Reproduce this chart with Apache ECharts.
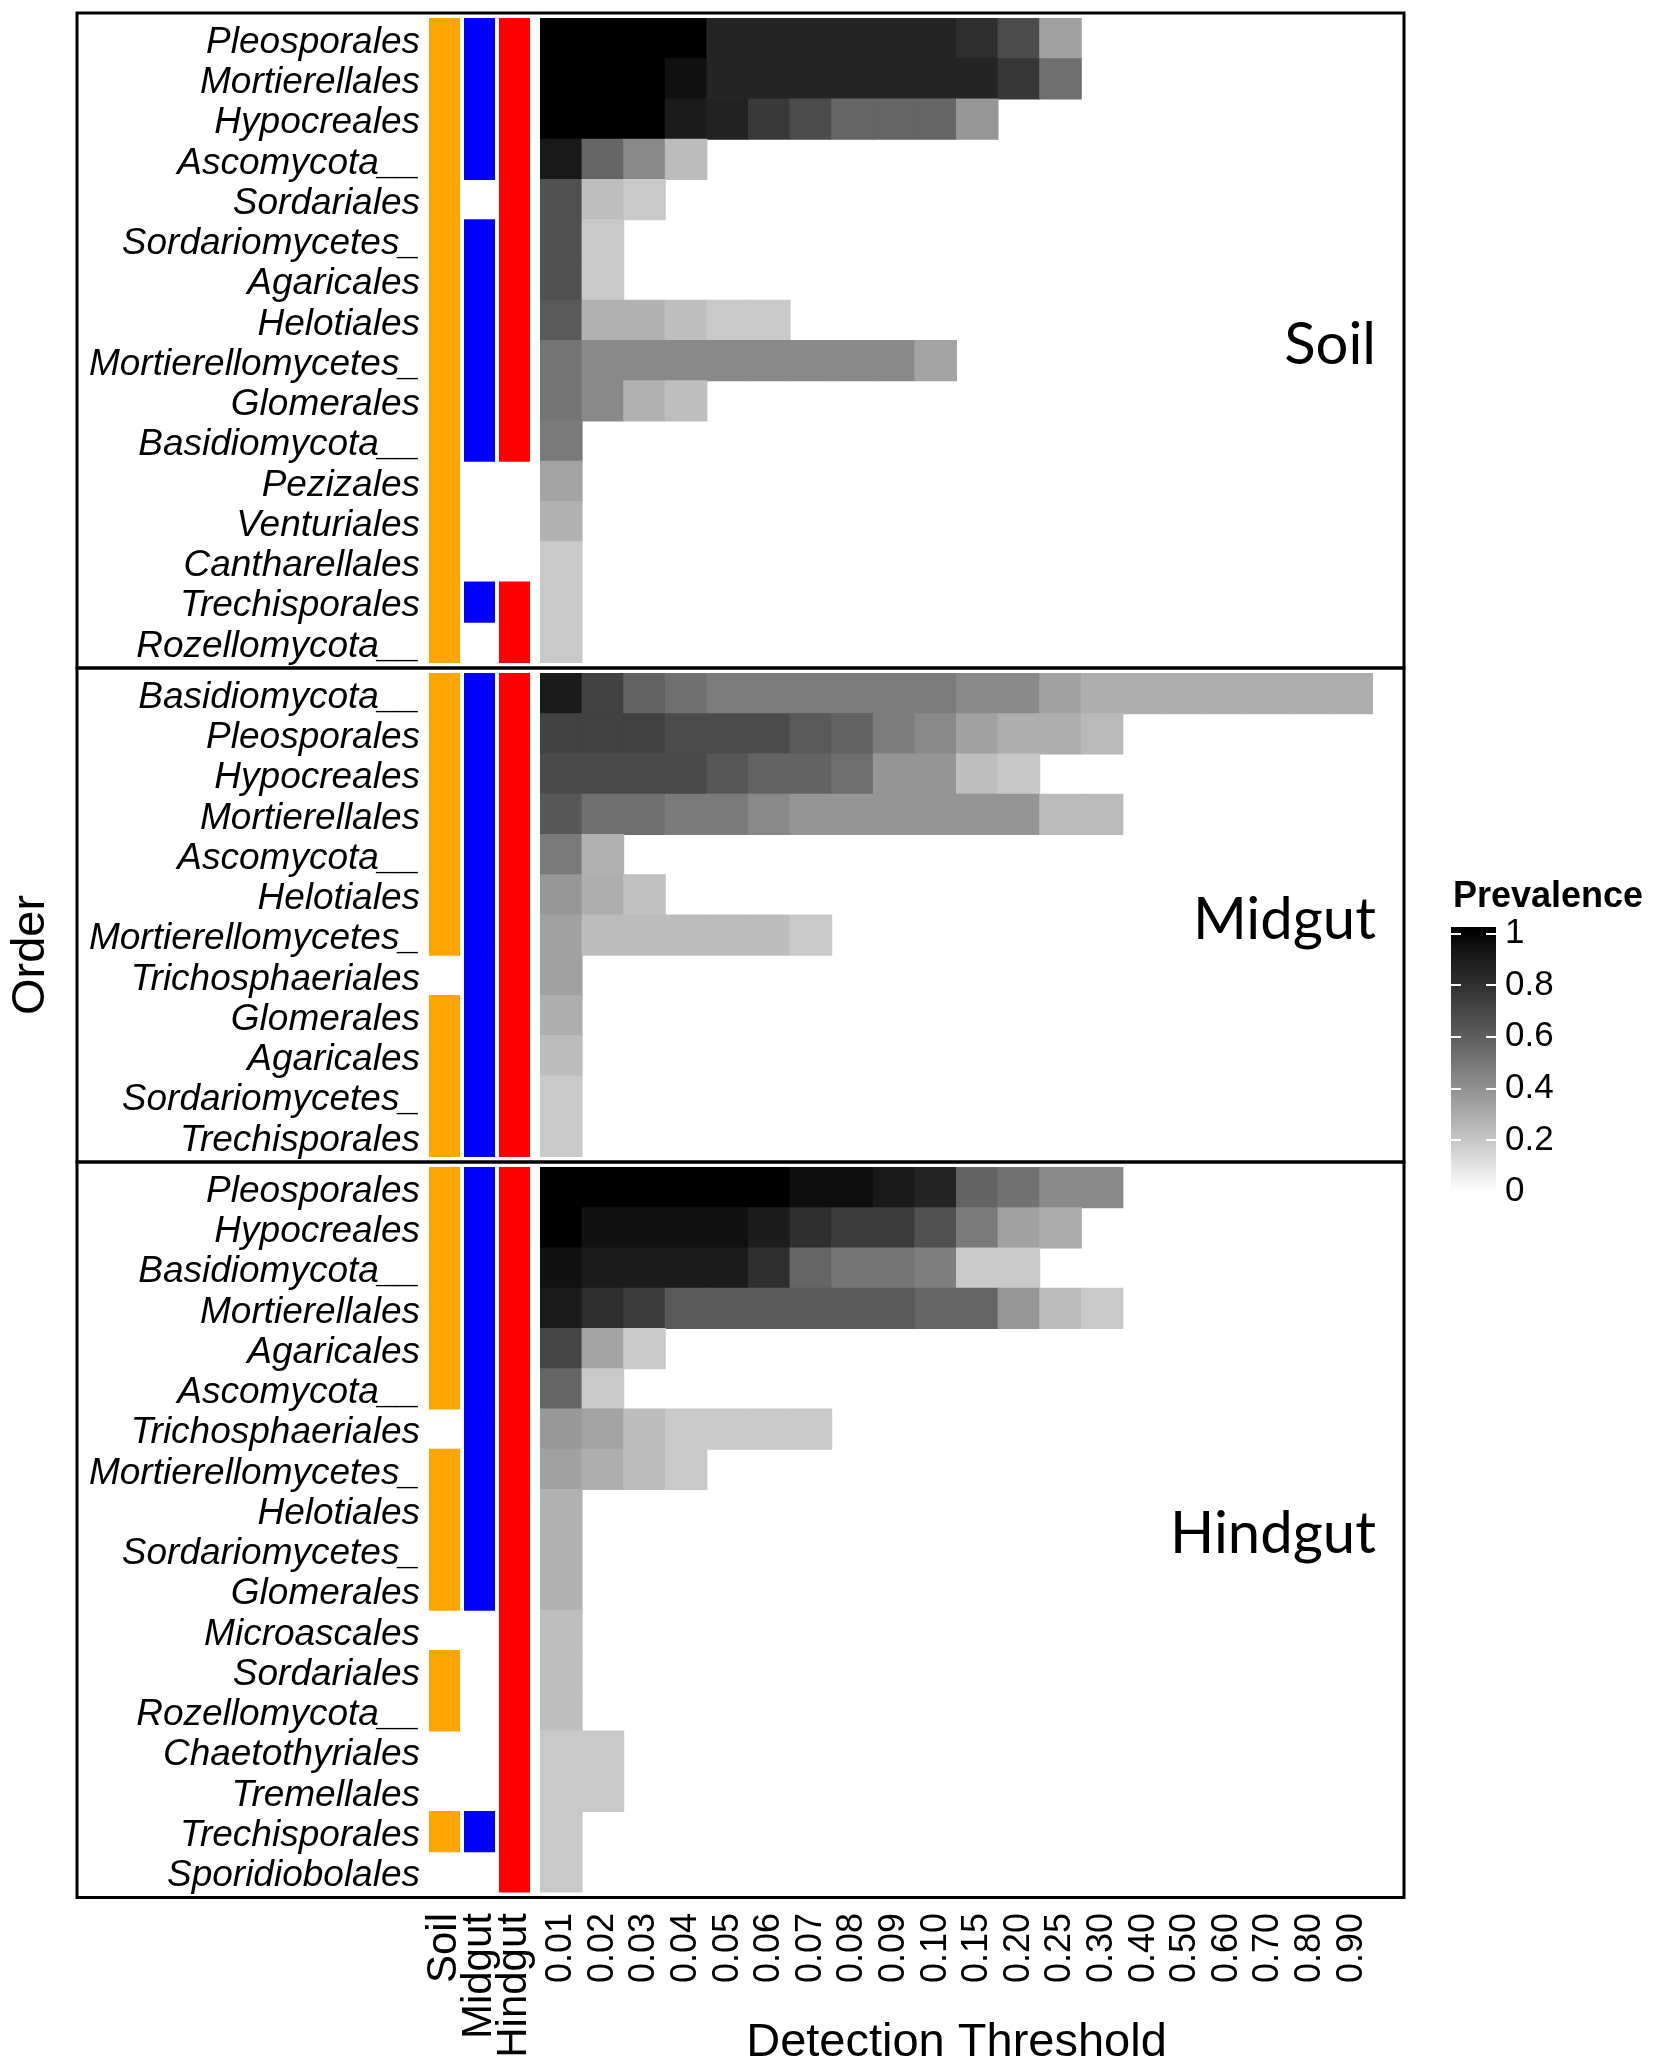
<!DOCTYPE html>
<html><head><meta charset="utf-8">
<script src="https://cdn.jsdelivr.net/npm/echarts@6/dist/echarts.min.js"></script>
<style>html,body{margin:0;padding:0;background:#fff}#c{width:1654px;height:2066px}</style>
</head><body><div id="c"></div><script>
// ---------------- data ----------------
const thresholds = ['0.01','0.02','0.03','0.04','0.05','0.06','0.07','0.08','0.09','0.10',
                    '0.15','0.20','0.25','0.30','0.40','0.50','0.60','0.70','0.80','0.90'];
const sources = ['Soil','Midgut','Hindgut'];
const sourceColors = ['#FFA500','#0000FF','#FF0000'];
const legendBreaks = [0, 0.2, 0.4, 0.6, 0.8, 1];

const soilOrders = ['Pleosporales','Mortierellales','Hypocreales','Ascomycota__','Sordariales',
  'Sordariomycetes_','Agaricales','Helotiales','Mortierellomycetes_','Glomerales','Basidiomycota__',
  'Pezizales','Venturiales','Cantharellales','Trechisporales','Rozellomycota__'];
// presence in [Soil, Midgut, Hindgut]
const soilPresence = [[1,1,1],[1,1,1],[1,1,1],[1,1,1],[1,0,1],[1,1,1],[1,1,1],[1,1,1],[1,1,1],[1,1,1],[1,1,1],
  [1,0,0],[1,0,0],[1,0,0],[1,1,1],[1,0,1]];
// prevalence per detection threshold (leading columns; missing = not detected)
const soilPrevalence = [
  [1,1,1,1,0.86,0.86,0.86,0.86,0.86,0.86,0.81,0.68,0.34],
  [1,1,1,0.95,0.86,0.86,0.86,0.86,0.86,0.86,0.86,0.77,0.53],
  [1,1,1,0.9,0.87,0.76,0.68,0.57,0.57,0.57,0.38],
  [0.91,0.57,0.43,0.24],
  [0.66,0.23,0.19],
  [0.66,0.19],
  [0.66,0.19],
  [0.62,0.28,0.28,0.23,0.19,0.19],
  [0.51,0.43,0.43,0.43,0.43,0.43,0.43,0.43,0.43,0.33],
  [0.51,0.43,0.28,0.23],
  [0.49],
  [0.33],
  [0.28],
  [0.19],
  [0.19],
  [0.19]
];

const midgutOrders = ['Basidiomycota__','Pleosporales','Hypocreales','Mortierellales','Ascomycota__',
  'Helotiales','Mortierellomycetes_','Trichosphaeriales','Glomerales','Agaricales','Sordariomycetes_','Trechisporales'];
const midgutPresence = [[1,1,1],[1,1,1],[1,1,1],[1,1,1],[1,1,1],[1,1,1],[1,1,1],[0,1,1],[1,1,1],[1,1,1],[1,1,1],[1,1,1]];
const midgutPrevalence = [
  [0.9,0.72,0.585,0.53,0.48,0.48,0.48,0.48,0.48,0.48,0.43,0.43,0.335,0.29,0.29,0.29,0.29,0.29,0.29,0.29],
  [0.72,0.72,0.72,0.68,0.68,0.68,0.62,0.585,0.48,0.43,0.34,0.29,0.29,0.25],
  [0.685,0.685,0.685,0.685,0.63,0.58,0.58,0.536,0.383,0.383,0.23,0.194],
  [0.63,0.53,0.53,0.49,0.49,0.433,0.383,0.383,0.383,0.383,0.383,0.383,0.241,0.241],
  [0.49,0.28],
  [0.38,0.29,0.22],
  [0.34,0.24,0.24,0.24,0.24,0.24,0.19],
  [0.34],
  [0.29],
  [0.24],
  [0.19],
  [0.19]
];

const hindgutOrders = ['Pleosporales','Hypocreales','Basidiomycota__','Mortierellales','Agaricales','Ascomycota__',
  'Trichosphaeriales','Mortierellomycetes_','Helotiales','Sordariomycetes_','Glomerales','Microascales',
  'Sordariales','Rozellomycota__','Chaetothyriales','Tremellales','Trechisporales','Sporidiobolales'];
const hindgutPresence = [[1,1,1],[1,1,1],[1,1,1],[1,1,1],[1,1,1],[1,1,1],[0,1,1],[1,1,1],[1,1,1],[1,1,1],[1,1,1],
  [0,0,1],[1,0,1],[1,0,1],[0,0,1],[0,0,1],[1,1,1],[0,0,1]];
const hindgutPrevalence = [
  [1,1,1,1,1,1,0.96,0.96,0.91,0.86,0.58,0.52,0.43,0.43],
  [1,0.95,0.95,0.95,0.95,0.89,0.81,0.75,0.75,0.66,0.49,0.34,0.30],
  [0.95,0.9,0.9,0.9,0.9,0.81,0.57,0.51,0.51,0.475,0.19,0.19],
  [0.9,0.81,0.75,0.62,0.62,0.62,0.62,0.62,0.62,0.57,0.57,0.38,0.24,0.19],
  [0.71,0.33,0.19],
  [0.57,0.19],
  [0.37,0.33,0.24,0.19,0.19,0.19,0.19],
  [0.34,0.29,0.24,0.19],
  [0.28],
  [0.28],
  [0.28],
  [0.23],
  [0.23],
  [0.23],
  [0.19,0.19],
  [0.19,0.19],
  [0.19],
  [0.19]
];

// ---------------- helpers ----------------
function labGray(v) { // white->black gradient interpolated in CIELAB lightness
  const L = 100 * (1 - v);
  const Y = L > 8 ? Math.pow((L + 16) / 116, 3) : L / 903.3;
  const s = Y <= 0.0031308 ? 12.92 * Y : 1.055 * Math.pow(Y, 1 / 2.4) - 0.055;
  const g = Math.max(0, Math.min(255, Math.round(255 * s)));
  return 'rgb(' + g + ',' + g + ',' + g + ')';
}
const rampStops = [];
for (let i = 0; i <= 20; i++) rampStops.push(labGray(i / 20));

const FONT = '"Liberation Sans", Arial, sans-serif';
const panels = [
  {name:'Soil', orders:soilOrders, presence:soilPresence, prevalence:soilPrevalence},
  {name:'Midgut', orders:midgutOrders, presence:midgutPresence, prevalence:midgutPrevalence},
  {name:'Hindgut', orders:hindgutOrders, presence:hindgutPresence, prevalence:hindgutPrevalence}
];

const ROW_H = 40.25, PAD = 5.5, BOX_TOP = 13, BOX_LEFT = 77, BOX_RIGHT = 1404;
const PRES_LEFT = 427, PRES_W = 105, HEAT_LEFT = 540.5, HEAT_W = 832, LABEL_SHIFT = 4;

const grid = [], xAxis = [], yAxis = [], series = [], graphic = [], heatIdx = [];
let yCur = BOX_TOP;
panels.forEach((p, i) => {
  const n = p.orders.length;
  const ch = n * ROW_H;
  const h = ch + 2 * PAD;
  const top = yCur + PAD;
  const last = i === panels.length - 1;

  graphic.push({type:'rect', z:100, shape:{x:BOX_LEFT, y:yCur, width:BOX_RIGHT - BOX_LEFT, height:h},
    style:{fill:null, stroke:'#000', lineWidth:3}});
  graphic.push({type:'text', z:100, x:1376, y:yCur + h / 2 + 5,
    style:{text:p.name, align:'right', verticalAlign:'middle', font:'58px Lato, "Noto Sans", sans-serif', fill:'#000'}});

  // presence grid
  const gP = grid.length;
  grid.push({left:PRES_LEFT, top:top, width:PRES_W, height:ch, outerBoundsMode:'none'});
  xAxis.push({type:'category', gridIndex:gP, data:sources, position:'bottom',
    axisLine:{show:false}, axisTick:{show:false}, splitLine:{show:false},
    axisLabel:{show:last, interval:0, rotate:90, margin:21, fontSize:42, fontFamily:FONT, color:'#000'}});
  yAxis.push({type:'category', gridIndex:gP, data:p.orders, inverse:true, show:false,
    axisLine:{show:false}, axisTick:{show:false}, splitLine:{show:false}});
  const presData = [];
  p.presence.forEach((row, yi) => row.forEach((v, xi) => { if (v) presData.push([xi, yi]); }));
  series.push({type:'custom', xAxisIndex:gP, yAxisIndex:gP, data:presData, encode:{x:0, y:1}, silent:true,
    renderItem: function (params, api) {
      const c = api.coord([api.value(0), api.value(1)]);
      const s = api.size([1, 1]);
      const w = s[0] * 0.886;
      return {type:'rect', shape:{x:c[0] - w / 2, y:c[1] - s[1] / 2 - 0.5, width:w, height:s[1] + 1},
        style:{fill:sourceColors[api.value(0)]}};
    }});

  // order-name labels (slightly lowered axis, same categories)
  const gT = grid.length;
  grid.push({left:PRES_LEFT, top:top + LABEL_SHIFT, width:PRES_W, height:ch, outerBoundsMode:'none'});
  xAxis.push({type:'category', gridIndex:gT, data:sources, show:false});
  yAxis.push({type:'category', gridIndex:gT, data:p.orders, inverse:true,
    axisLine:{show:false}, axisTick:{show:false}, splitLine:{show:false},
    axisLabel:{show:true, interval:0, margin:7, fontSize:37, fontStyle:'italic', fontFamily:FONT, color:'#000'}});

  // heatmap grid
  const gH = grid.length;
  grid.push({left:HEAT_LEFT, top:top, width:HEAT_W, height:ch, outerBoundsMode:'none'});
  const xa = {type:'category', gridIndex:gH, data:thresholds, position:'bottom',
    axisLine:{show:false}, axisTick:{show:false}, splitLine:{show:false}, splitArea:{show:false},
    axisLabel:{show:last, interval:0, rotate:90, margin:21, fontSize:36, fontFamily:FONT, color:'#000'}};
  if (last) {
    xa.name = 'Detection Threshold';
    xa.nameLocation = 'middle';
    xa.nameGap = 151;
    xa.nameTextStyle = {fontSize:47, fontFamily:FONT, color:'#000', verticalAlign:'middle'};
  }
  xAxis.push(xa);
  yAxis.push({type:'category', gridIndex:gH, data:p.orders, inverse:true, show:false,
    axisLine:{show:false}, axisTick:{show:false}, splitLine:{show:false}, splitArea:{show:false}});
  const hData = [];
  p.prevalence.forEach((row, yi) => row.forEach((v, xi) => { if (v > 0) hData.push([xi, yi, v]); }));
  heatIdx.push(series.length);
  series.push({type:'custom', xAxisIndex:gH, yAxisIndex:gH, data:hData, encode:{x:0, y:1}, silent:true,
    renderItem: function (params, api) {
      const c = api.coord([api.value(0), api.value(1)]);
      const s = api.size([1, 1]);
      return {type:'rect', shape:{x:c[0] - s[0] / 2 - 0.5, y:c[1] - s[1] / 2 - 0.5, width:s[0] + 1, height:s[1] + 1},
        style:{fill:api.visual('color')}};
    }});

  yCur += h;
});

// legend colour bar as its own small coordinate system
const gL = grid.length;
grid.push({left:1451, top:927, width:45, height:271, outerBoundsMode:'none'});
xAxis.push({type:'value', gridIndex:gL, min:0, max:1, show:false});
const legAxisBase = {type:'value', gridIndex:gL, min:-0.025, max:1.025, z:10,
  axisLine:{show:false}, splitLine:{show:false},
  axisTick:{show:true, inside:true, length:10, customValues:legendBreaks, lineStyle:{color:'#fff', width:2}}};
const yLeft = yAxis.length;
yAxis.push(Object.assign({}, legAxisBase, {position:'left', axisLabel:{show:false}}));
yAxis.push(Object.assign({}, legAxisBase, {position:'right',
  axisLabel:{show:true, customValues:legendBreaks, margin:9, fontSize:35, fontFamily:FONT, color:'#000',
    formatter: v => String(v)}}));
series.push({type:'custom', xAxisIndex:gL, yAxisIndex:yLeft, data:[[0.5, 0.5]], encode:{x:0, y:1}, silent:true,
  renderItem: function (params, api) {
    const p0 = api.coord([0, -0.025]);
    const p1 = api.coord([1, 1.025]);
    const stops = rampStops.map((c, i) => ({offset:(i / 20 + 0.025) / 1.05, color:c}));
    stops.unshift({offset:0, color:rampStops[0]});
    stops.push({offset:1, color:rampStops[20]});
    return {type:'rect', shape:{x:p0[0], y:p1[1], width:p1[0] - p0[0], height:p0[1] - p1[1]},
      style:{fill:new echarts.graphic.LinearGradient(0, 1, 0, 0, stops)}};
  }});

graphic.push({type:'text', x:1453, y:879,
  style:{text:'Prevalence', align:'left', verticalAlign:'top', font:'bold 36px ' + FONT, fill:'#000'}});
graphic.push({type:'text', x:31, y:955, rotation:Math.PI / 2,
  style:{text:'Order', align:'center', verticalAlign:'middle', font:'47px ' + FONT, fill:'#000'}});

const chart = echarts.init(document.getElementById('c'), null, {renderer:'canvas'});
chart.setOption({
  animation:false,
  backgroundColor:'#fff',
  grid:grid, xAxis:xAxis, yAxis:yAxis, series:series, graphic:graphic,
  visualMap:[{type:'continuous', show:false, min:0, max:1, dimension:2, seriesIndex:heatIdx, inRange:{color:rampStops}}]
});
</script></body></html>
